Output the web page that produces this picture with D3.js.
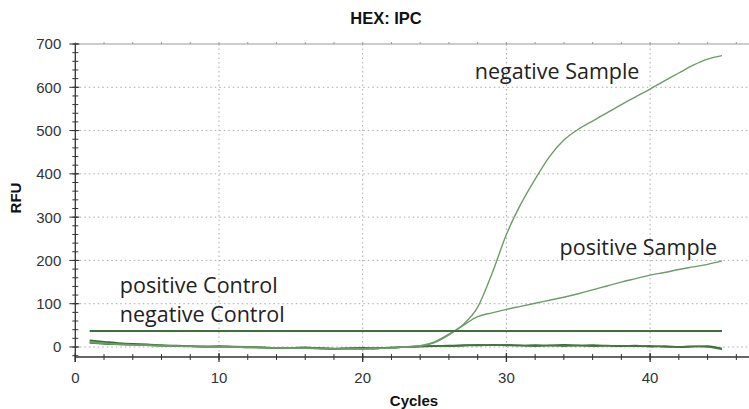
<!DOCTYPE html>
<html>
<head>
<meta charset="utf-8">
<script src="https://cdn.jsdelivr.net/npm/d3@7"></script>
<style>
html,body{margin:0;padding:0;background:#fff;}
svg{display:block;}
</style>
</head>
<body>
<svg id="chart" width="749" height="409"></svg>
<script>
const cycles = d3.range(1, 46);
const negativeSample = [12,9,7,5,4,3,2,1,1,0,0,-1,-2,-2,-3,-3,-4,-4,-5,-5,-4,-2,0,3,12,30,52,92,170,260,330,388,440,478,503,522,541,560,578,596,615,633,651,665,673];
const positiveSample = [10,8,6,5,4,3,2,2,1,1,0,0,-1,-2,-2,-3,-3,-4,-4,-4,-3,-2,0,2,10,28,50,70,79,87,94,101,108,115,123,132,141,150,158,166,172,179,185,191,199];
const positiveControl = [15,12,9,7,6,4,3,2,1,2,1,0,-1,-2,-2,-1,-3,-4,-3,-2,-3,-1,0,1,2,3,4,4,5,4,3,4,3,5,3,4,3,2,3,1,2,0,1,2,-4];
const negativeControl = [9,7,6,5,4,3,2,2,1,0,0,-1,-1,-3,-2,-3,-2,-4,-3,-4,-2,-2,0,2,3,2,3,5,4,5,4,2,4,2,4,2,3,3,2,3,0,0,2,0,-5];
const thresholdValue = 37;
const thresholdCycles = [1, 45];
const yTicks = [0,100,200,300,400,500,600,700];
const xTicks = [0,10,20,30,40];
const labels = [
  {text:"negative Sample", c:27.8, v:620},
  {text:"positive Sample", c:33.7, v:212},
  {text:"positive Control", c:3.1, v:125},
  {text:"negative Control", c:3.1, v:57}
];

const svg = d3.select("#chart");
const x = d3.scaleLinear().domain([0,47]).range([75.3, 750.7]);
const y = d3.scaleLinear().domain([0,700]).range([347, 44]);
const yBottom = 357;

// gridlines
const grid = svg.append("g");
grid.selectAll("line.h").data(yTicks.filter(d=>d<700)).join("line")
  .attr("x1", x(0)).attr("x2", 749).attr("y1", d=>y(d)).attr("y2", d=>y(d))
  .attr("stroke","#aaa").attr("stroke-width",1).attr("stroke-dasharray","1.5,3");
grid.selectAll("line.v").data(xTicks.filter(d=>d>0)).join("line")
  .attr("x1", d=>x(d)).attr("x2", d=>x(d)).attr("y1", y(700)).attr("y2", yBottom)
  .attr("stroke","#aaa").attr("stroke-width",1).attr("stroke-dasharray","1.5,3");

// top border with small ticks
svg.append("line").attr("x1", x(0)).attr("x2", 749).attr("y1", y(700)).attr("y2", y(700))
  .attr("stroke","#999").attr("stroke-width",1);
svg.append("g").selectAll("line").data(d3.range(0,47,2)).join("line")
  .attr("x1", d=>x(d)).attr("x2", d=>x(d)).attr("y1", y(700)-2).attr("y2", y(700))
  .attr("stroke","#999");

// y axis
const yMinor = d3.range(-20, 701, 20);
const ya = svg.append("g");
ya.append("line").attr("x1", x(0)).attr("x2", x(0)).attr("y1", y(700)).attr("y2", yBottom+5)
  .attr("stroke","#333").attr("stroke-width",1.3);
ya.selectAll("line.mi").data(yMinor).join("line")
  .attr("x1", x(0)-3).attr("x2", x(0)+3).attr("y1", d=>y(d)).attr("y2", d=>y(d))
  .attr("stroke","#333");
ya.selectAll("line.ma").data(yTicks).join("line")
  .attr("x1", x(0)-6).attr("x2", x(0)+4).attr("y1", d=>y(d)).attr("y2", d=>y(d))
  .attr("stroke","#333");
ya.selectAll("text").data(yTicks).join("text")
  .attr("x", x(0)-14).attr("y", d=>y(d)).attr("dy","0.36em")
  .attr("text-anchor","end").attr("font-family","Liberation Sans, Arial, sans-serif")
  .attr("font-size",15).attr("fill","#333").text(d=>d);

// x axis
const xa = svg.append("g");
xa.append("line").attr("x1", x(0)).attr("x2", 749).attr("y1", yBottom).attr("y2", yBottom)
  .attr("stroke","#333").attr("stroke-width",1.3);
xa.selectAll("line.mi").data(d3.range(0,47,2)).join("line")
  .attr("x1", d=>x(d)).attr("x2", d=>x(d)).attr("y1", yBottom-3).attr("y2", yBottom+3)
  .attr("stroke","#333");
xa.selectAll("line.ma").data(xTicks).join("line")
  .attr("x1", d=>x(d)).attr("x2", d=>x(d)).attr("y1", yBottom-4).attr("y2", yBottom+5)
  .attr("stroke","#333").attr("stroke-width",1.3);
xa.selectAll("text").data(xTicks).join("text")
  .attr("x", d=>x(d)).attr("y", 383)
  .attr("text-anchor","middle").attr("font-family","Liberation Sans, Arial, sans-serif")
  .attr("font-size",15).attr("fill","#333").text(d=>d);

// titles
svg.append("text").attr("x",386).attr("y",24).attr("text-anchor","middle")
  .attr("font-family","Liberation Sans, Arial, sans-serif").attr("font-weight","bold")
  .attr("font-size",16.5).attr("fill","#111").text("HEX: IPC");
svg.append("text").attr("transform","translate(21,198) rotate(-90)").attr("text-anchor","middle")
  .attr("font-family","Liberation Sans, Arial, sans-serif").attr("font-weight","bold")
  .attr("font-size",15).attr("fill","#111").text("RFU");
svg.append("text").attr("x",414).attr("y",406).attr("text-anchor","middle")
  .attr("font-family","Liberation Sans, Arial, sans-serif").attr("font-weight","bold")
  .attr("font-size",15).attr("fill","#111").text("Cycles");

// curves
const line = d3.line().x((d,i)=>x(cycles[i])).y(d=>y(d)).curve(d3.curveMonotoneX);
const curves = [
  {vals: positiveControl, color:"#3a6a36", w:1.8},
  {vals: negativeControl, color:"#45773f", w:1.5},
  {vals: negativeSample, color:"#6c9c69", w:1.4},
  {vals: positiveSample, color:"#6c9c69", w:1.4}
];
svg.append("g").selectAll("path").data(curves).join("path")
  .attr("d", d=>line(d.vals)).attr("fill","none")
  .attr("stroke", d=>d.color).attr("stroke-width", d=>d.w);

// threshold
svg.append("line").attr("x1", x(thresholdCycles[0])).attr("x2", x(thresholdCycles[1]))
  .attr("y1", y(thresholdValue)).attr("y2", y(thresholdValue))
  .attr("stroke","#3f6f3c").attr("stroke-width",2);

// annotations
svg.append("g").selectAll("text").data(labels).join("text")
  .attr("x", d=>x(d.c)).attr("y", d=>y(d.v))
  .attr("font-family","Open Sans, sans-serif").attr("font-size",21.5)
  .attr("fill","#222").text(d=>d.text);
</script>
</body>
</html>
